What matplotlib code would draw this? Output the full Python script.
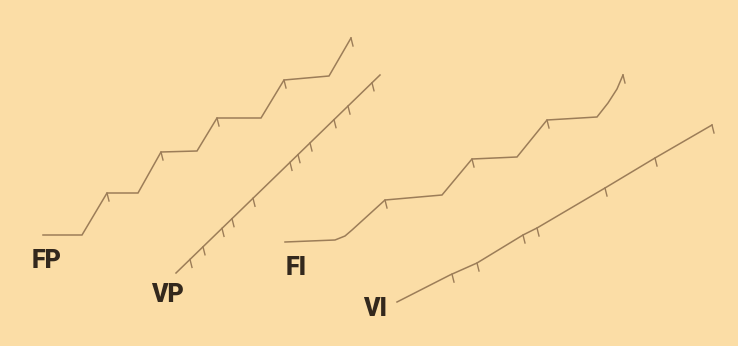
import numpy as np
import matplotlib
matplotlib.use('Agg')
import matplotlib.pyplot as plt

# Cumulative records in pixel coordinates (y down)
fp_x = [43, 82, 107, 138, 161, 197, 217, 261, 284, 329, 351]
fp_y = [235, 235, 193, 193, 152, 151, 118, 118, 80, 76, 38]
fp_pips = [107, 161, 217, 284, 351]

vp_x = [176, 380]
vp_y = [273, 75]
vp_pips = [190, 203, 222, 232, 253, 290, 298, 310, 334, 348, 372]

fi_x = [285, 335, 345, 352, 385, 442, 472, 517, 547, 597, 608, 617, 623]
fi_y = [242, 240, 236, 230, 200, 195, 159, 157, 120, 117, 103, 89, 75]
fi_pips = [385, 472, 547, 623]

vi_x = [397, 450, 477, 523, 537, 605, 655, 712]
vi_y = [302, 275, 263, 235, 228, 188, 158, 125]
vi_pips = [452, 477, 523, 537, 605, 655, 712]

labels = ['FP', 'VP', 'FI', 'VI']
label_x = [47, 167, 296, 375]
label_y = [261, 295, 268, 309]

bg = '#fbdda6'
ink = '#9c7d58'

fig = plt.figure(figsize=(7.38, 3.46), dpi=100, facecolor=bg)
ax = fig.add_axes([0, 0, 1, 1])
ax.set_facecolor(bg)
ax.set_xlim(0, 738)
ax.set_ylim(346, 0)
ax.axis('off')

def record(xs, ys, pips):
    ax.plot(xs, ys, color=ink, lw=1.1, solid_joinstyle='miter')
    for px in pips:
        py = np.interp(px, xs, ys)
        ax.plot([px, px + 2], [py, py + 8], color=ink, lw=1.0)

record(fp_x, fp_y, fp_pips)
record(vp_x, vp_y, vp_pips)
record(fi_x, fi_y, fi_pips)
record(vi_x, vi_y, vi_pips)

for t, x, y in zip(labels, label_x, label_y):
    ax.text(x, y, t, ha='center', va='center', fontsize=18, fontweight='heavy',
            family=['Roboto', 'DejaVu Sans'], color='#33281d')

fig.savefig('out.png', dpi=100, facecolor=bg)
